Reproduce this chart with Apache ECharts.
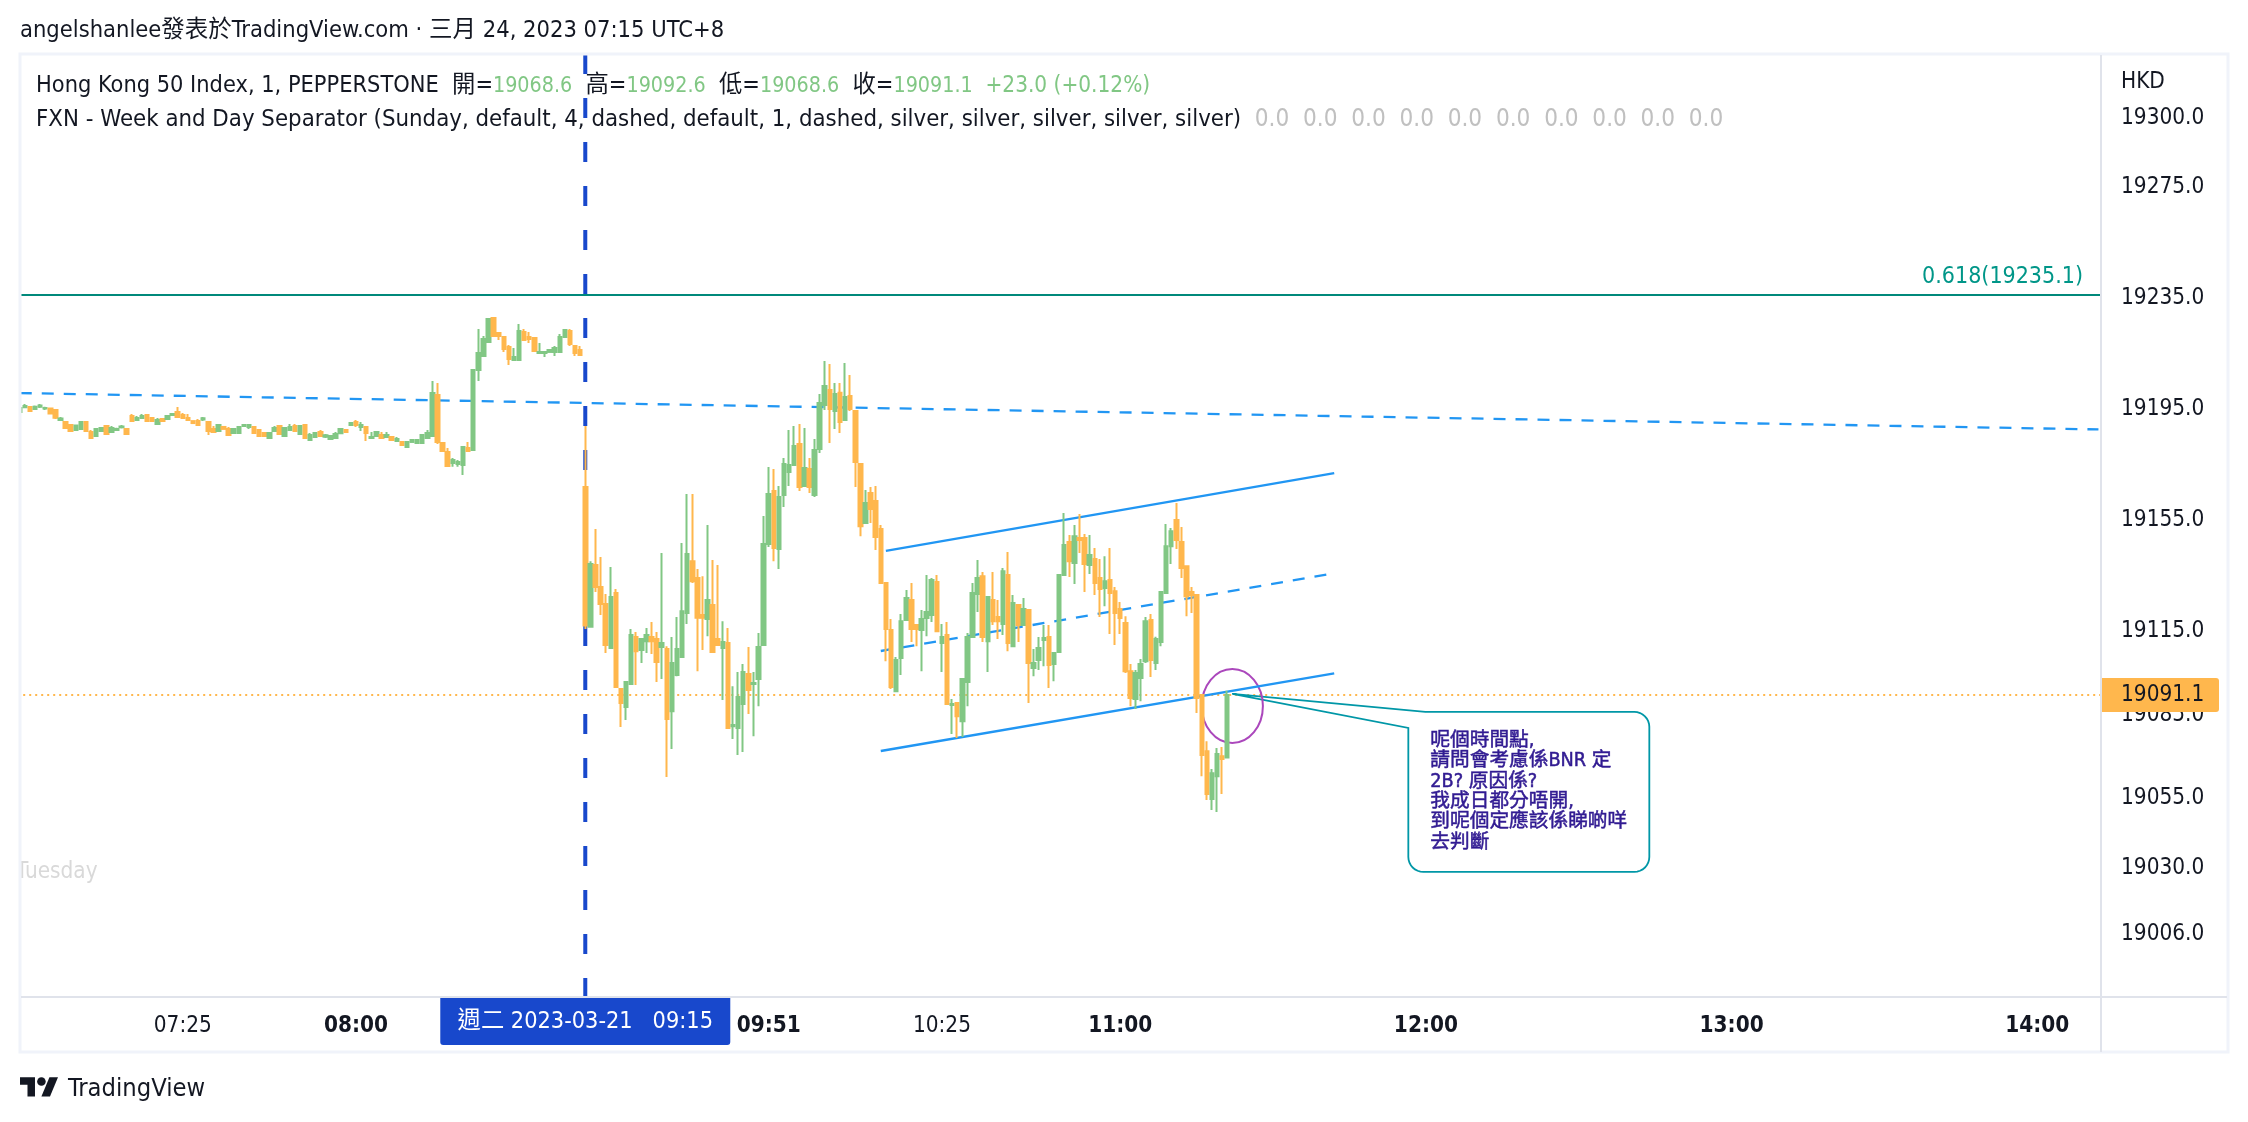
<!DOCTYPE html>
<html><head><meta charset="utf-8">
<style>html,body{margin:0;padding:0;background:#fff}#c{width:2248px;height:1122px}</style>
<script src="https://cdn.jsdelivr.net/npm/echarts@6/dist/echarts.min.js"></script>
</head><body><div id="c"></div>
<script>
// [open, close, low, high] per 1-minute bar
const barsEarly = [
[19193.0,19194.4,19193.0,19194.4],[19194.7,19195.1,19194.4,19195.9],[19194.8,19193.3,19193.3,19194.8],[19194.1,19194.9,19194.1,19195.3],[19194.9,19195.3,19194.4,19195.9],
[19194.2,19194.4,19193.7,19194.9],[19194.2,19192.4,19192.4,19194.4],[19193.7,19190.9,19190.5,19193.7],[19190.1,19190.6,19189.7,19191.2],[19189.4,19187.2,19187.2,19189.7],
[19188.3,19186.1,19186.1,19188.3],[19186.5,19188.1,19186.5,19188.1],[19186.9,19189.4,19186.9,19189.4],[19189.4,19186.1,19186.1,19189.4],[19185.8,19183.6,19183.6,19186.5],
[19184.3,19186.9,19184.3,19187.2],[19186.1,19187.2,19186.1,19187.2],[19187.9,19185.1,19185.1,19187.9],[19185.8,19187.2,19185.4,19187.9],[19186.5,19186.9,19186.1,19187.3],
[19187.5,19187.8,19187.0,19188.3],[19186.9,19185.1,19185.1,19186.9],[19191.5,19189.7,19189.7,19192.3],[19190.1,19190.8,19190.1,19191.5],[19190.8,19191.5,19190.8,19192.3],
[19191.9,19189.7,19189.7,19191.9],[19190.8,19189.7,19189.7,19190.8],[19188.7,19190.1,19188.7,19190.8],[19190.5,19189.7,19189.7,19190.5],[19190.5,19191.5,19190.5,19191.5],
[19191.9,19192.3,19191.5,19192.6],[19193.0,19191.2,19191.2,19194.8],[19191.9,19190.8,19190.8,19192.6],[19190.8,19190.1,19190.1,19192.3],[19189.7,19189.0,19189.0,19189.7],
[19189.7,19188.3,19188.3,19190.5],[19190.3,19190.7,19189.7,19191.2],[19189.4,19186.1,19184.7,19189.4],[19186.9,19185.8,19185.8,19187.9],[19186.1,19188.3,19185.8,19188.3],
[19187.6,19186.9,19186.9,19187.6],[19186.9,19184.7,19184.7,19187.6],[19185.4,19186.9,19185.1,19186.9],[19185.4,19187.6,19185.1,19187.6],[19187.9,19188.3,19187.6,19188.7],
[19187.6,19188.3,19186.9,19188.3],[19187.6,19185.4,19185.4,19187.6],[19186.5,19184.3,19184.0,19186.5],[19185.4,19184.3,19184.3,19185.4],[19183.6,19185.4,19183.6,19185.8],
[19186.1,19187.2,19186.1,19187.9],[19187.9,19185.1,19184.7,19187.9],[19184.3,19187.2,19184.3,19187.2],[19186.5,19187.6,19186.5,19188.7],[19187.9,19186.1,19186.1,19188.7],
[19185.1,19187.9,19185.1,19188.3],[19188.3,19183.6,19183.3,19188.3],[19182.9,19184.7,19182.9,19185.4],[19184.0,19185.4,19184.0,19185.4],[19185.8,19184.3,19184.3,19186.5],
[19184.1,19184.6,19183.6,19185.1],[19183.3,19184.3,19183.3,19184.3],[19183.6,19185.1,19183.6,19185.8],[19185.3,19186.9,19185.3,19186.9],[19186.5,19185.8,19185.4,19186.5],
[19188.3,19189.0,19187.9,19189.4],[19189.4,19188.3,19187.6,19190.1],[19187.6,19188.3,19186.1,19189.4],[19187.6,19185.4,19182.5,19187.6],[19183.6,19184.0,19183.3,19185.8],
[19184.3,19185.8,19184.0,19185.8],[19184.7,19183.6,19183.6,19185.8],[19184.0,19184.7,19184.0,19185.8],[19184.0,19182.9,19182.5,19184.0],[19182.5,19183.3,19182.5,19184.0],
[19182.2,19181.1,19181.1,19182.2],[19180.4,19182.2,19180.4,19182.2],[19182.2,19182.9,19182.2,19182.9],[19181.8,19182.9,19181.8,19182.9],[19181.8,19184.7,19181.8,19184.7],
[19183.6,19185.4,19183.6,19186.5],[19184.3,19199.8,19184.3,19204.1],[19199.1,19182.2,19181.5,19203.4],[19181.8,19178.9,19178.6,19181.8],[19178.6,19173.5,19173.5,19180.0],
[19174.6,19175.7,19173.3,19176.4],[19174.3,19175.0,19173.3,19175.7],[19173.9,19180.4,19170.3,19180.4],[19180.0,19178.9,19178.9,19182.2],[19179.3,19208.1,19178.9,19208.5],
[19208.1,19214.2,19204.1,19222.9],[19213.1,19219.3,19213.1,19220.3],[19218.2,19226.5,19217.8,19226.5],[19226.8,19220.3,19220.0,19227.2],[19221.4,19220.3,19218.9,19221.8],
[19220.0,19215.7,19214.6,19220.3],[19216.4,19212.1,19209.9,19217.1],[19211.7,19212.8,19211.7,19216.0],[19211.7,19222.1,19211.7,19224.7],[19221.8,19218.9,19218.5,19222.9],
[19220.0,19219.3,19217.8,19221.8],[19219.6,19214.9,19214.9,19220.0],[19214.2,19214.6,19213.9,19217.8],[19214.2,19214.6,19212.8,19214.9],[19214.6,19215.3,19214.6,19215.3],
[19214.6,19216.0,19213.1,19216.7],[19214.6,19220.0,19214.6,19221.1],[19220.0,19222.5,19220.0,19222.9],[19222.1,19217.5,19216.7,19222.9],[19216.7,19214.2,19213.1,19216.7],
[19215.3,19213.5,19213.5,19216.7]
];
const barsSession = [
[19166.0,19116.1,19114.9,19187.9],[19115.7,19138.3,19115.7,19139.3],[19137.9,19130.0,19128.2,19150.9],[19130.0,19123.9,19119.9,19140.8],[19123.9,19109.1,19106.2,19127.5],
[19108.0,19126.4,19108.0,19137.2],[19127.8,19094.0,19094.0,19129.3],[19093.3,19088.2,19079.6,19093.3],[19086.8,19095.8,19082.1,19096.1],[19095.1,19112.7,19095.1,19114.9],
[19112.0,19106.9,19094.7,19113.8],[19107.3,19111.3,19102.6,19111.3],[19110.5,19112.7,19106.2,19115.2],[19112.0,19110.5,19105.9,19117.4],[19111.3,19103.0,19095.8,19113.8],
[19108.4,19109.8,19096.9,19142.2],[19107.7,19082.5,19061.6,19108.7],[19085.3,19102.6,19071.7,19112.0],[19098.3,19107.7,19097.9,19119.2],[19104.8,19121.3,19104.8,19145.8],
[19120.6,19141.9,19116.7,19163.5],[19139.3,19132.1,19131.4,19163.5],[19133.2,19118.9,19099.7,19136.5],[19119.9,19118.9,19107.3,19133.9],[19118.5,19125.3,19112.3,19152.3],
[19123.5,19106.6,19106.6,19139.7],[19111.3,19109.1,19109.1,19137.9],[19108.0,19110.2,19089.3,19117.7],[19109.8,19079.2,19079.2,19115.2],[19079.9,19080.3,19075.3,19094.3],
[19079.2,19090.4,19069.5,19099.4],[19087.9,19099.4,19070.6,19102.3],[19098.7,19092.9,19084.3,19108.4],[19095.1,19095.4,19076.3,19099.4],[19096.9,19108.4,19087.1,19113.4],
[19109.1,19145.5,19109.1,19155.5],[19145.5,19163.5,19144.4,19173.2],[19164.5,19144.0,19139.3,19172.5],[19143.7,19162.4,19136.5,19166.3],[19163.1,19174.3,19158.8,19176.4],
[19171.4,19173.9,19166.3,19186.5],[19173.9,19180.7,19173.9,19187.9],[19181.5,19166.0,19164.5,19188.7],[19166.3,19172.8,19166.3,19187.2],[19172.5,19166.0,19163.8,19176.4],
[19163.1,19179.3,19162.4,19183.3],[19179.7,19196.2,19178.2,19199.5],[19195.5,19202.3,19193.7,19211.3],[19200.9,19194.1,19181.8,19210.3],[19193.3,19199.5,19186.9,19203.4],
[19199.9,19189.4,19185.4,19203.4],[19190.1,19198.4,19190.1,19210.6],[19198.7,19194.1,19193.3,19206.3],[19193.3,19175.0,19166.0,19193.3],[19174.3,19151.9,19148.3,19174.3],
[19153.0,19160.2,19153.0,19164.9],[19163.8,19158.1,19153.0,19166.0],[19160.9,19148.0,19143.3,19166.3],[19150.9,19131.4,19131.4,19152.3],[19131.4,19114.9,19103.3,19131.4],
[19114.5,19094.0,19093.3,19118.5],[19092.5,19103.7,19092.5,19104.8],[19104.4,19117.7,19098.3,19120.3],[19118.1,19126.0,19118.1,19128.9],[19125.3,19114.9,19110.2,19131.4],
[19116.3,19114.9,19108.7,19116.3],[19114.5,19118.5,19099.7,19121.7],[19118.8,19121.0,19112.3,19134.3],[19119.9,19132.5,19117.4,19133.2],[19131.8,19114.1,19114.1,19134.3],
[19109.8,19112.0,19099.4,19116.7],[19112.7,19087.9,19087.9,19117.4],[19087.5,19087.9,19077.1,19089.7],[19088.2,19083.5,19075.6,19088.6],[19081.7,19096.9,19076.0,19096.9],
[19095.8,19112.0,19087.1,19113.4],[19112.0,19127.8,19112.0,19131.4],[19127.5,19133.2,19121.0,19139.7],[19133.9,19112.0,19110.2,19135.4],[19110.5,19126.4,19099.4,19126.4],
[19125.3,19117.7,19116.3,19135.4],[19119.2,19117.7,19111.3,19125.3],[19116.7,19135.7,19112.7,19136.8],[19134.3,19109.8,19106.9,19142.6],[19108.7,19124.2,19108.7,19127.1],
[19123.5,19116.3,19110.2,19123.5],[19116.3,19122.1,19116.3,19126.0],[19121.7,19102.6,19088.2,19121.7],[19100.8,19102.6,19097.9,19107.7],[19103.7,19108.0,19100.1,19112.0],
[19110.9,19111.6,19101.5,19116.3],[19112.0,19101.9,19093.6,19116.3],[19102.3,19106.2,19096.1,19106.2],[19106.6,19134.3,19106.6,19134.3],[19134.3,19145.1,19134.3,19156.6],
[19146.2,19139.3,19133.6,19148.7],[19138.6,19148.3,19131.1,19152.3],[19147.6,19146.9,19142.2,19156.3],[19147.6,19138.3,19128.2,19149.1],[19137.9,19141.5,19134.7,19148.7],
[19140.1,19131.4,19127.1,19144.0],[19133.2,19129.3,19119.2,19140.1],[19129.6,19132.1,19123.1,19141.1],[19132.5,19127.8,19113.1,19144.0],[19128.5,19120.6,19109.1,19130.0],
[19122.1,19118.8,19113.1,19124.6],[19117.0,19099.7,19099.0,19119.5],[19099.7,19090.0,19087.1,19102.3],[19089.7,19099.0,19086.1,19100.1],[19097.2,19102.3,19088.9,19104.1],
[19103.3,19117.7,19102.6,19119.2],[19118.1,19103.7,19097.6,19120.3],[19102.6,19111.3,19100.1,19112.1],[19110.2,19128.2,19108.7,19128.5],[19127.8,19144.7,19127.8,19152.7],
[19144.7,19150.1,19138.3,19151.2],[19154.1,19146.9,19143.7,19160.2],[19146.2,19136.8,19133.2,19151.6],[19137.5,19126.7,19119.5,19137.5],[19128.2,19127.1,19120.6,19130.0],
[19127.1,19090.0,19084.6,19127.1],[19091.1,19069.5,19061.9,19091.1],[19070.9,19055.5,19053.3,19074.5],[19053.7,19062.9,19049.7,19064.5],[19061.9,19069.9,19049.0,19072.0],
[19069.1,19068.1,19055.5,19072.4],[19068.6,19091.1,19068.6,19092.6]
];
const yTicks = [19300,19275,19235,19195,19155,19115,19085,19055,19030,19006];
const xTicks = ['07:25','08:00','09:51','10:25','11:00','12:00','13:00','14:00'];
const xTicksBold = ['08:00','09:51','11:00','12:00','13:00','14:00'];
const yMin = 18982.4, yMax = 19321.85;
const lastPrice = 19091.1;
const fibLevel = 19235.1;
const sessionBarIndex = 111;
const barSlots = 409;
const longTrend = [[0,19199.8],[408,19186.7]];
const channelUpper = [[170,19143.0],[258,19171.0]];
const channelMiddle = [[169,19106.95],[258,19134.9]];
const channelLower = [[169,19070.95],[258,19098.9]];
const ellipseMark = [[232,244,19100.5,19073.8]];
const calloutTip = [[238,19091.5]];
const calloutText = '呢個時間點,\n請問會考慮係BNR 定\n2B? 原因係?\n我成日都分唔開,\n到呢個定應該係睇啲咩\n去判斷';

const UP='#81c784', DOWN='#ffb74d', BLUE='#2196f3', INK='#131722', SEP='#1848cc', TEAL='#009688';
const FF='"DejaVu Sans Condensed","Noto Sans CJK TC",sans-serif';
const FS=22.4, FL=23.5;

function hhmm(m){return String(Math.floor(m/60)).padStart(2,'0')+':'+String(m%60).padStart(2,'0');}
const categories=[];
for(let j=0;j<barSlots;j++){
  let m;
  if(j<=65) m=445+(j-32);
  else if(j<=110) m=480+(j-66);
  else m=555+(j-111);
  categories.push(hhmm(m));
}
const candleData=barsEarly.concat(barsSession);

function calloutPoints(tx,ty){
  const L=tx+176,R=tx+417,T=ty+18,B=ty+178,r=15,pts=[[tx,ty],[tx+193,T]];
  const arc=(cx,cy,a0)=>{for(let k=0;k<=8;k++){const a=a0+k/8*Math.PI/2;pts.push([cx+r*Math.cos(a),cy+r*Math.sin(a)]);}};
  arc(R-r,T+r,-Math.PI/2);arc(R-r,B-r,0);arc(L+r,B-r,Math.PI/2);
  pts.push([L,T+16]);
  return pts;
}
const lineBase={type:'line',symbol:'none',silent:true,animation:false,z:2,tooltip:{show:false}};

const legend1='{d|Hong Kong 50 Index, 1, PEPPERSTONE  開=}{g|19068.6}{d|  高=}{g|19092.6}{d|  低=}{g|19068.6}{d|  收=}{g|19091.1}{p|  +23.0 (+0.12%)}';
const legend2='{d|FXN - Week and Day Separator (Sunday, default, 4, dashed, default, 1, dashed, silver, silver, silver, silver, silver)}{s|  0.0  0.0  0.0  0.0  0.0  0.0  0.0  0.0  0.0  0.0}';
const logoS=38/35.5;
const logoPt=(x,y)=>[20+x*logoS,1077+(y-4)*logoS+0.3];

const option={
  backgroundColor:'#ffffff',
  animation:false,
  textStyle:{fontFamily:FF},
  grid:{left:17.2,top:54,width:2083.8,height:943,containLabel:false},
  xAxis:{type:'category',data:categories,boundaryGap:true,
    axisLine:{show:false},axisTick:{show:false},splitLine:{show:false},
    axisLabel:{interval:(i,v)=>xTicks.includes(v),margin:18,
      formatter:v=>xTicksBold.includes(v)?'{b|'+v+'}':'{n|'+v+'}',
      rich:{b:{fontFamily:FF,fontSize:FS,fontWeight:'bold',color:INK},n:{fontFamily:FF,fontSize:FS,color:INK}}}},
  yAxis:{type:'value',position:'right',min:yMin,max:yMax,scale:true,
    axisLine:{show:false},axisTick:{show:false},splitLine:{show:false},
    axisLabel:{customValues:yTicks,align:'left',margin:20,fontFamily:FF,fontSize:FS,verticalAlign:'top',lineHeight:6,
      color:v=>v===19300?'#6a6d78':INK,formatter:v=>v.toFixed(1)}},
  graphic:{elements:[
    {type:'rect',z:60,silent:true,shape:{x:0,y:40,width:20,height:1020},style:{fill:'#fff'}},
    {type:'rect',z:61,silent:true,shape:{x:20,y:54,width:2208,height:998},style:{fill:'none',stroke:'#f0f3fa',lineWidth:3}},
    {type:'line',z:62,silent:true,shape:{x1:2101,y1:55,x2:2101,y2:1052},style:{stroke:'#e0e3eb',lineWidth:2}},
    {type:'line',z:62,silent:true,shape:{x1:21,y1:997,x2:2227,y2:997},style:{stroke:'#e0e3eb',lineWidth:2}},
    {type:'text',z:70,silent:true,style:{x:20,y:31,text:'angelshanlee發表於TradingView.com · 三月 24, 2023 07:15 UTC+8',fill:INK,font:FL+'px '+FF,textVerticalAlign:'middle'}},
    {type:'text',z:70,silent:true,style:{x:36,y:86,text:legend1,textVerticalAlign:'middle',rich:{d:{fontFamily:FF,fontSize:23.35,fill:INK,color:INK},g:{fontFamily:FF,fontSize:21.3,fill:UP,color:UP},p:{fontFamily:FF,fontSize:22.4,fill:UP,color:UP}}}},
    {type:'text',z:70,silent:true,style:{x:36,y:120,text:legend2,textVerticalAlign:'middle',rich:{d:{fontFamily:FF,fontSize:23.75,fill:INK,color:INK},s:{fontFamily:FF,fontSize:24.1,fill:'#c0c0c0',color:'#c0c0c0'}}}},
    {type:'text',z:70,silent:true,style:{x:2121,y:82,text:'HKD',fill:INK,font:FS+'px '+FF,textVerticalAlign:'middle'}},
    {type:'text',z:50,silent:true,style:{x:16,y:872,text:'Tuesday',fill:'#d9d9d9',font:FS+'px '+FF,textVerticalAlign:'middle'}},
    {type:'polygon',z:70,silent:true,shape:{points:[[14,22],[7,22],[7,11],[0,11],[0,4],[14,4]].map(p=>logoPt(p[0],p[1]))},style:{fill:INK}},
    {type:'polygon',z:70,silent:true,shape:{points:[[28,22],[20,22],[27.5,4],[35.5,4]].map(p=>logoPt(p[0],p[1]))},style:{fill:INK}},
    {type:'circle',z:70,silent:true,shape:{cx:logoPt(20,8)[0],cy:logoPt(20,8)[1],r:4*logoS},style:{fill:INK}},
    {type:'text',z:70,silent:true,style:{x:68,y:1089,text:'TradingView',fill:INK,font:'25.3px '+FF,textVerticalAlign:'middle'}}
  ]},
  series:[
    Object.assign({},lineBase,{name:'longTrend',data:longTrend,lineStyle:{color:BLUE,width:2.3,type:[12,10]}}),
    Object.assign({},lineBase,{name:'fib',data:[],markLine:{silent:true,z:1,animation:false,symbol:'none',
      lineStyle:{color:'#00897b',width:2,type:'solid'},
      label:{show:true,position:'insideEndTop',distance:[18,6],formatter:'0.618('+fibLevel+')',color:TEAL,fontFamily:FF,fontSize:23},
      data:[{yAxis:fibLevel}]}}),
    Object.assign({},lineBase,{name:'price',data:[],markLine:{silent:true,z:1,animation:false,symbol:'none',
      lineStyle:{color:DOWN,width:2,type:[2,4]},
      label:{show:true,position:'end',distance:0,formatter:lastPrice.toFixed(1),color:INK,backgroundColor:DOWN,
        fontFamily:FF,fontSize:FS,width:98,height:34,lineHeight:34,padding:[0,0,0,20],align:'left',borderRadius:[0,3,3,0]},
      data:[{yAxis:lastPrice}]}}),
    Object.assign({},lineBase,{name:'session',data:[[sessionBarIndex,yMax],[sessionBarIndex,yMin]],lineStyle:{color:SEP,width:4,type:[20,24]},
      markPoint:{silent:true,animation:false,symbol:'rect',symbolSize:[2,2],itemStyle:{color:SEP},
        label:{show:true,position:'bottom',distance:0,formatter:'週二 2023-03-21   09:15',color:'#ffffff',fontFamily:FF,fontSize:23.3,
          backgroundColor:SEP,width:290,height:47,lineHeight:47,align:'center',verticalAlign:'top',borderRadius:[0,0,3,3]},
        data:[{name:'session',coord:[sessionBarIndex,yMin]}]}}),
    Object.assign({},lineBase,{name:'upper',data:channelUpper,lineStyle:{color:BLUE,width:2.3}}),
    Object.assign({},lineBase,{name:'middle',data:channelMiddle,lineStyle:{color:BLUE,width:2.3,type:[12,10]}}),
    Object.assign({},lineBase,{name:'lower',data:channelLower,lineStyle:{color:BLUE,width:2.3}}),
    {type:'custom',name:'callout',silent:true,animation:false,data:calloutTip,encode:{x:0,y:1},
      renderItem:(p,api)=>{
        const t=api.coord([api.value(0),api.value(1)]);
        return {type:'group',children:[
          {type:'polygon',shape:{points:calloutPoints(t[0],t[1])},style:{fill:'#fff',stroke:'#0097a7',lineWidth:1.8}},
          {type:'text',style:{x:t[0]+198,y:t[1]+37,text:calloutText,fill:'#311b92',stroke:'#311b92',lineWidth:0.5,font:'19.7px '+FF,lineHeight:20.3,textVerticalAlign:'top'}}
        ]};
      }},
    {type:'custom',name:'ellipse',silent:true,animation:false,data:ellipseMark,encode:{x:[0,1],y:[2,3]},
      renderItem:(p,api)=>{
        const a=api.coord([api.value(0),api.value(2)]),b=api.coord([api.value(1),api.value(3)]);
        return {type:'ellipse',shape:{cx:(a[0]+b[0])/2,cy:(a[1]+b[1])/2,rx:(b[0]-a[0])/2,ry:(b[1]-a[1])/2},
          style:{fill:'none',stroke:'#ab47bc',lineWidth:2}};
      }},
    {type:'candlestick',name:'HK50',data:candleData,barWidth:4,silent:true,animation:false,z:3,large:false,clip:true,
      itemStyle:{color:UP,color0:DOWN,borderColor:UP,borderColor0:DOWN,borderWidth:2}}
  ]
};
const chart=echarts.init(document.getElementById('c'),null,{width:2248,height:1122});
chart.setOption(option);
</script></body></html>
